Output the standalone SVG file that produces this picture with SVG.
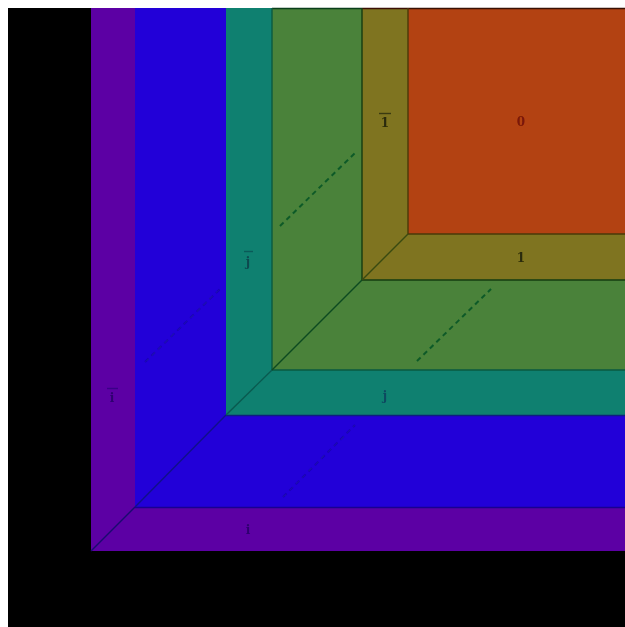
<svg xmlns="http://www.w3.org/2000/svg" width="625" height="627" viewBox="0 0 625 627">
<defs>
<filter id="soft" x="-20%" y="-20%" width="140%" height="140%"><feGaussianBlur stdDeviation="0.5"/></filter>
</defs>
<style>
.edge{stroke-width:1.4;fill:none}
.dash{stroke-width:2;stroke-dasharray:5 4;fill:none;filter:url(#soft)}
text{font-family:"DejaVu Serif","Liberation Serif",serif;font-size:12px;font-weight:bold;text-anchor:middle;filter:url(#soft)}
.bar{stroke-width:1.4;fill:none}
</style>
<rect width="625" height="627" fill="#fff"/>
<rect id="background" x="8" y="8" width="617" height="619" fill="#000"/>
<g id="region-i">
<rect x="91" y="8" width="534" height="543" fill="#5c00a4"/>
<text x="248" y="534" fill="#2f0070">i</text>
</g>
<g id="region-i-bar">
<text x="112" y="402" fill="#2f0070">i</text>
<path class="bar" stroke="#3a0088" d="M107 388.500H118"/>
</g>
<g id="region-k">
<rect x="135" y="8" width="490" height="499" fill="#2200d8"/>
</g>
<g id="region-j">
<rect x="226" y="8" width="399" height="407" fill="#0f8070"/>
<text x="385" y="400" fill="#0a4a60">j</text>
</g>
<g id="region-j-bar">
<text x="248" y="266" fill="#0a4a50">j</text>
<path class="bar" stroke="#0a5a58" d="M244 251.500H253"/>
</g>
<g id="region-green">
<rect x="272" y="8" width="353" height="362" fill="#4a823a"/>
</g>
<g id="region-1">
<rect x="362" y="8" width="263" height="272" fill="#7f7420"/>
<text x="521" y="262" fill="#2a2a08">1</text>
</g>
<g id="region-1-bar">
<text x="385" y="127" fill="#2a2a08">1</text>
<path class="bar" stroke="#3a3a10" d="M379 113.500H391"/>
</g>
<g id="region-0">
<rect x="408" y="8" width="217" height="226" fill="#b34212"/>
<text x="521" y="126" fill="#7a1808">0</text>
</g>
<g id="connectors">
<path class="edge" stroke="#0a3f1a" d="M272 8.500H362"/>
<path class="edge" stroke="#3a1004" d="M362 8.500H625"/>
<path class="edge" stroke="#0d1f80" d="M226 415.500H625"/>
<path class="edge" stroke="#1a0090" d="M135 507.500H625"/>
<path class="edge" stroke="#0a5a40" d="M272 8V370H625"/>
<path class="edge" stroke="#143c10" d="M362 8V280H625"/>
<path class="edge" stroke="#4a3a08" d="M408 8V234H625"/>
<path class="edge" stroke="#1a0a70" d="M91 551L135 507"/>
<path class="edge" stroke="#10108a" d="M135 507L226 415"/>
<path class="edge" stroke="#0a5a50" d="M226 415L272 370"/>
<path class="edge" stroke="#0d4a20" d="M272 370L362 280"/>
<path class="edge" stroke="#3a4a10" d="M362 280L408 234"/>
<path class="dash" stroke="#0d5a28" d="M280 226L355 153"/>
<path class="dash" stroke="#0d5a28" d="M417 361L491 289"/>
<path class="dash" stroke="#1c08b4" d="M283 497L355 425"/>
<path class="dash" stroke="#1c08b4" d="M145 362L220 289"/>
</g>
</svg>
